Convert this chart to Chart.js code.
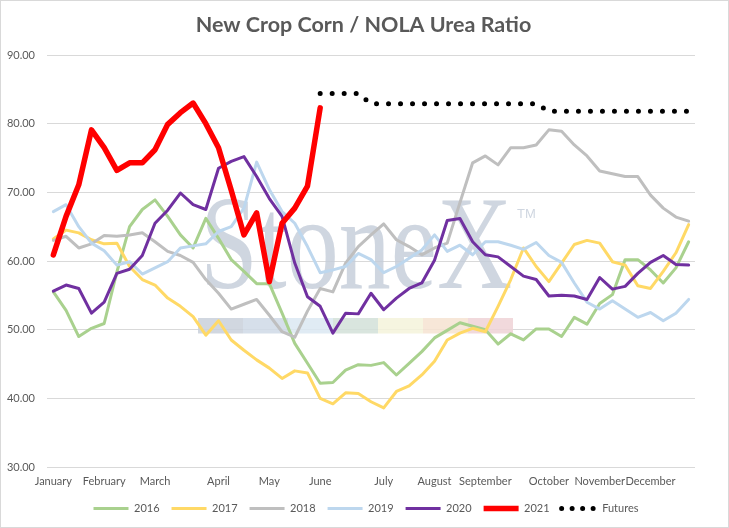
<!DOCTYPE html>
<html>
<head>
<meta charset="utf-8">
<script src="https://cdn.jsdelivr.net/npm/chart.js@4.4.1/dist/chart.umd.min.js"></script>
<style>
  html, body { margin: 0; padding: 0; background: #ffffff; }
  #wrap { width: 729px; height: 528px; position: relative; }
</style>
</head>
<body>
<div id="wrap"><canvas id="c" width="729" height="528"></canvas></div>
<script>
// ---- data (weekly, 51 weeks) ----
const monthNames = ['January','February','March','April','May','June','July','August','September','October','November','December'];
const monthWeekIndex = [0, 4, 8, 13, 17, 21, 26, 30, 34, 39, 43, 47];
const weekCount = 51;

const categories = Array.from({length: weekCount}, (_, i) => {
  const k = monthWeekIndex.indexOf(i);
  return k >= 0 ? monthNames[k] : '';
});

const yTicks = [30, 40, 50, 60, 70, 80, 90];

const s2016 = [55.5, 52.8, 49.0, 50.2, 50.9, 58.4, 65.0, 67.5, 68.9, 66.5, 63.8, 61.9, 66.2, 63.3, 60.2, 58.5, 56.7, 56.7, 52.4, 48.0, 45.1, 42.2, 42.3, 44.1, 44.9, 44.8, 45.2, 43.4, 45.1, 46.8, 48.8, 49.9, 51.0, 50.5, 50.0, 47.9, 49.4, 48.5, 50.1, 50.1, 49.0, 51.8, 50.8, 53.8, 55.1, 60.2, 60.2, 58.7, 56.8, 59.0, 62.8];
const s2017 = [63.2, 64.5, 64.1, 63.1, 62.5, 62.6, 59.2, 57.3, 56.5, 54.6, 53.4, 51.9, 49.2, 51.3, 48.5, 47.0, 45.6, 44.4, 42.9, 44.0, 43.7, 40.0, 39.2, 40.8, 40.7, 39.5, 38.6, 41.0, 41.8, 43.4, 45.4, 48.5, 49.5, 50.2, 49.7, 53.4, 57.3, 61.9, 59.2, 57.0, 59.7, 62.4, 63.0, 62.6, 59.9, 59.4, 56.4, 56.0, 58.5, 61.2, 65.3];
const s2018 = [63.0, 63.6, 61.9, 62.5, 63.7, 63.6, 63.8, 64.1, 62.8, 61.4, 60.8, 59.8, 57.3, 55.3, 53.0, 53.7, 54.4, 52.1, 49.7, 48.9, 52.7, 56.0, 55.5, 59.7, 62.1, 63.8, 65.4, 63.1, 62.1, 60.9, 61.9, 62.6, 68.5, 74.3, 75.3, 74.0, 76.5, 76.5, 76.9, 79.1, 78.9, 76.9, 75.3, 73.1, 72.7, 72.3, 72.3, 69.6, 67.7, 66.4, 65.8];
const s2019 = [67.2, 68.2, 65.0, 62.6, 61.5, 59.4, 59.9, 58.1, 59.0, 59.9, 61.9, 62.2, 62.5, 64.3, 65.0, 67.7, 74.4, 70.4, 67.2, 65.5, 62.1, 58.3, 58.7, 59.2, 61.1, 60.2, 58.3, 59.2, 60.4, 61.6, 63.8, 61.4, 62.3, 60.9, 62.8, 62.8, 62.3, 61.7, 62.7, 60.8, 59.8, 56.8, 54.0, 53.0, 54.2, 53.0, 51.8, 52.5, 51.3, 52.4, 54.4];
const s2020 = [55.6, 56.5, 56.0, 52.4, 54.0, 58.2, 58.8, 60.8, 65.5, 67.4, 69.9, 68.2, 67.5, 73.5, 74.5, 75.2, 72.3, 69.1, 66.5, 59.7, 54.8, 53.4, 49.5, 52.4, 52.3, 55.3, 52.9, 54.6, 56.0, 56.8, 60.1, 65.9, 66.2, 62.8, 60.9, 60.6, 59.2, 57.8, 57.3, 54.9, 55.0, 54.9, 54.4, 57.6, 55.9, 56.3, 58.2, 59.8, 60.8, 59.5, 59.4];
const s2021 = [60.9, 66.5, 71.1, 79.1, 76.5, 73.2, 74.3, 74.3, 76.2, 79.9, 81.6, 83.0, 80.0, 76.5, 70.3, 63.8, 67.0, 57.0, 65.5, 67.7, 70.9, 82.3];
const futures = [84.4, 84.4, 84.4, 84.4, 82.9, 82.9, 82.9, 82.9, 82.9, 82.9, 82.9, 82.9, 82.9, 82.9, 82.9, 82.9, 82.9, 82.9, 81.8, 81.8, 81.8, 81.8, 81.8, 81.8, 81.8, 81.8, 81.8, 81.8, 81.8, 81.8];
const futuresStart = 21;

const seriesNames = ['2016', '2017', '2018', '2019', '2020', '2021', 'Futures'];
const seriesColors = ['#a9d18e', '#ffd966', '#bfbfbf', '#bdd7ee', '#7030a0', '#ff0000', '#000000'];

// ---- build padded arrays ----
function pad(arr, start) {
  const out = new Array(weekCount).fill(null);
  arr.forEach((v, i) => { out[start + i] = v; });
  return out;
}
const seriesData = [s2016, s2017, s2018, s2019, s2020, pad(s2021, 0), pad(futures, futuresStart)];

const FONT = 'Lato, "Open Sans", "Liberation Sans", sans-serif';
const TXT = '#595959';

const datasets = seriesData.map((d, k) => {
  const isRed = k === 5, isFut = k === 6;
  return {
    label: seriesNames[k],
    data: d,
    borderColor: seriesColors[k],
    backgroundColor: seriesColors[k],
    borderWidth: isRed ? 5.5 : (isFut ? 5 : 3),
    borderDash: isFut ? [0, 12] : [],
    borderCapStyle: 'round',
    borderJoinStyle: 'round',
    pointRadius: 0,
    pointHoverRadius: 0,
    pointStyle: 'line',
    tension: 0,
    fill: false,
    spanGaps: false,
    order: 6 - k
  };
});

// ---- decorations ----
const bgPlugin = {
  id: 'bg',
  afterLayout(chart) {
    // centre title and legend on the whole canvas width, as in the reference
    const lg = chart.legend;
    if (lg) { lg.left += 18.5; lg.right += 18.5; }
    const tb = chart.titleBlock;
    if (tb) { tb.left += 16; tb.right += 16; }
  },
  beforeDraw(chart) {
    const ctx = chart.ctx;
    ctx.save();
    ctx.fillStyle = '#ffffff';
    ctx.fillRect(0, 0, chart.width, chart.height);
    ctx.restore();
  },
  afterDraw(chart) {
    const ctx = chart.ctx;
    ctx.save();
    ctx.strokeStyle = '#d9d9d9';
    ctx.lineWidth = 1;
    ctx.strokeRect(0.5, 0.5, chart.width - 1, chart.height - 1);
    ctx.restore();
  }
};

const watermark = {
  id: 'watermark',
  beforeDatasetsDraw(chart) {
    const ctx = chart.ctx;
    ctx.save();
    const stripCols = ['#c9d0db', '#cfd9e6', '#dbe7f2', '#d2e1d8', '#f4f3da', '#f6e3d1', '#eed2d6'];
    const x0 = 198, w = 45, y0 = 318, h = 15.5;
    ctx.globalAlpha = 0.85;
    stripCols.forEach((c, i) => { ctx.fillStyle = c; ctx.fillRect(x0 + i * w, y0, w, h); });
    ctx.globalAlpha = 0.8;
    ctx.fillStyle = '#c3ccd8';
    ctx.font = '133px "Liberation Serif", "DejaVu Serif", serif';
    ctx.textBaseline = 'alphabetic';
    const tw = ctx.measureText('StoneX').width;
    ctx.translate(200, 288);
    ctx.scale(312 / tw, 1);
    ctx.fillText('StoneX', 0, 0);
    ctx.restore();
    ctx.save();
    ctx.globalAlpha = 0.8;
    ctx.fillStyle = '#c3ccd8';
    ctx.font = '13px "Liberation Sans", sans-serif';
    ctx.textBaseline = 'alphabetic';
    ctx.fillText('TM', 517, 218);
    ctx.restore();
  }
};

new Chart(document.getElementById('c'), {
  type: 'line',
  data: { labels: categories, datasets },
  plugins: [bgPlugin, watermark],
  options: {
    responsive: false,
    animation: false,
    events: [],
    layout: { padding: { left: 0, right: 34, top: 0, bottom: 4 } },
    scales: {
      x: {
        type: 'category',
        offset: true,
        grid: { display: false, drawTicks: false },
        border: { display: false },
        ticks: {
          autoSkip: false, maxRotation: 0, minRotation: 0,
          color: TXT, font: { family: FONT, size: 11 }, padding: 8
        },
        afterFit(s) { s.height = 24; }
      },
      y: {
        min: 30, max: 90,
        afterBuildTicks(s) { s.ticks = yTicks.map(v => ({ value: v })); },
        grid: { color: '#d9d9d9', lineWidth: 1, drawTicks: false },
        border: { display: false },
        ticks: {
          color: TXT, font: { family: FONT, size: 11 }, padding: 12,
          callback: v => Number(v).toFixed(2)
        },
        afterFit(s) { s.width = 47; }
      }
    },
    plugins: {
      title: {
        display: true,
        text: 'New Crop Corn / NOLA Urea Ratio',
        color: TXT,
        font: { family: FONT, size: 21.5, weight: 'bold' },
        padding: { top: 12.6, bottom: 16.6 }
      },
      legend: {
        position: 'bottom',
        labels: {
          usePointStyle: true,
          pointStyleWidth: 35,
          color: TXT,
          font: { family: FONT, size: 11 },
          padding: 12,
          sort: (a, b) => a.datasetIndex - b.datasetIndex,
          generateLabels(chart) {
            const items = Chart.defaults.plugins.legend.labels.generateLabels(chart);
            items.forEach(it => {
              if (it.text === 'Futures') { it.lineDash = [0, 10.5]; it.lineCap = 'round'; }
              else { it.lineCap = 'butt'; }
            });
            return items;
          }
        }
      },
      tooltip: { enabled: false }
    }
  }
});
</script>
</body>
</html>
